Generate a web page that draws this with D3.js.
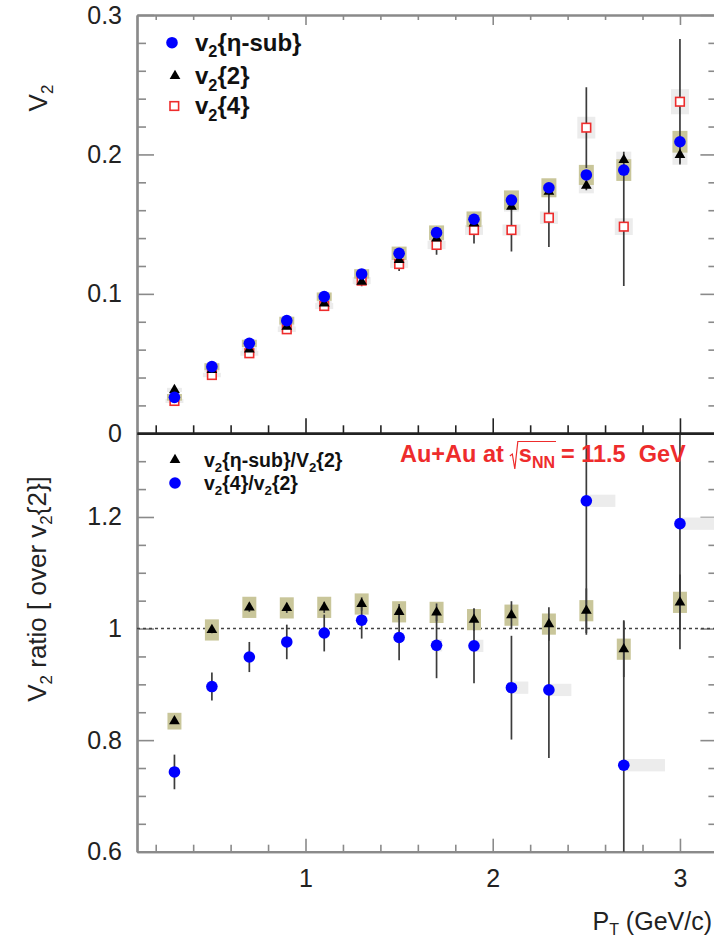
<!DOCTYPE html>
<html><head><meta charset="utf-8">
<script src="https://cdn.jsdelivr.net/npm/d3@7"></script>
<style>html,body{margin:0;padding:0;background:#fff;} svg{display:block;font-family:"Liberation Sans",Arial,Helvetica,sans-serif;}</style>
</head><body><svg id="c" width="714" height="939"></svg>
<script>
// ---------------- data ----------------
const pT = [0.3,0.5,0.7,0.9,1.1,1.3,1.5,1.7,1.9,2.1,2.3,2.5,2.7,3.0];

// upper panel: v2 vs pT
const v2EtaSub    = [0.0258,0.0478,0.0645,0.0808,0.0980,0.1143,0.1291,0.1439,0.1535,0.1673,0.1761,0.1853,0.1888,0.2091];
const v2EtaSubErr = [0.0008,0.0008,0.0009,0.0010,0.0011,0.0012,0.0013,0.0015,0.0018,0.0022,0.0026,0.0032,0.0040,0.0045];
const v2EtaSubSys = [0.0024,0.0025,0.0026,0.0028,0.0030,0.0034,0.0048,0.0052,0.0056,0.0069,0.0068,0.0072,0.0078,0.0078];

const v2Two    = [0.0311,0.0454,0.0602,0.0765,0.0932,0.1087,0.1243,0.1398,0.1506,0.1625,0.1733,0.1776,0.1960,0.1996];
const v2TwoErr = [0.0006,0.0006,0.0007,0.0008,0.0009,0.0010,0.0012,0.0014,0.0017,0.0021,0.0026,0.0032,0.0060,0.0060];
const v2TwoSys = [0.0015,0.0015,0.0016,0.0018,0.0020,0.0022,0.0025,0.0028,0.0030,0.0035,0.0040,0.0055,0.0060,0.0070];

const v2Four    = [0.0232,0.0418,0.0574,0.0746,0.0913,0.1095,0.1214,0.1351,0.1458,0.1458,0.1546,0.2192,0.1482,0.2378];
const v2FourErr = [0.0015,0.0018,0.0020,0.0025,0.0030,0.0040,0.0050,0.0070,0.0096,0.0155,0.0210,0.0290,0.0426,0.0450];
const v2FourSys = [0.0015,0.0016,0.0018,0.0020,0.0022,0.0025,0.0028,0.0030,0.0035,0.0040,0.0045,0.0078,0.0060,0.0090];

// lower panel: ratios over v2{2}
const ratioEta    = [0.834,0.9975,1.038,1.037,1.038,1.044,1.030,1.029,1.016,1.024,1.008,1.032,0.963,1.047];
const ratioEtaErr = [0.005,0.006,0.008,0.009,0.010,0.012,0.014,0.016,0.020,0.025,0.030,0.040,0.050,0.050];
const ratioEtaSys = [0.015,0.019,0.019,0.019,0.019,0.019,0.019,0.019,0.019,0.019,0.019,0.019,0.019,0.019];

const ratioFour     = [0.743,0.896,0.949,0.976,0.992,1.015,0.984,0.970,0.969,0.894,0.890,1.229,0.755,1.188];
const ratioFourErr  = [0.031,0.025,0.027,0.031,0.033,0.033,0.041,0.059,0.067,0.093,0.122,0.240,0.260,0.225];
const ratioFourSys  = [0.011,0.011,0.011,0.011,0.011,0.011,0.011,0.011,0.011,0.011,0.011,0.011,0.011,0.011];
const ratioFourSysW = [0,0,0,0,0,0,0,0.03,0.05,0.09,0.12,0.155,0.22,0.22];

// axes
const xMajor = [1,2,3];
const xMinor = [0.2,0.4,0.6,0.8,1.2,1.4,1.6,1.8,2.2,2.4,2.6,2.8];
const yTopMajor = [0,0.1,0.2,0.3];
const yTopMajorLabels = ["0","0.1","0.2","0.3"];
const yTopMinor = [0.02,0.04,0.06,0.08,0.12,0.14,0.16,0.18,0.22,0.24,0.26,0.28];
const yBotMajor = [0.6,0.8,1.0,1.2];
const yBotMajorLabels = ["0.6","0.8","1","1.2"];
const yBotMinor = [0.65,0.7,0.75,0.85,0.9,0.95,1.05,1.1,1.15,1.25,1.3];

// ---------------- drawing ----------------
const svg = d3.select("#c");
const L = 137, R = 717.4, T = 15, M = 433.3, B = 851.7;
const x = d3.scaleLinear().domain([0.1,3.2]).range([L,R]);
const yT = d3.scaleLinear().domain([0,0.3]).range([M,T]);
const yB = d3.scaleLinear().domain([0.6,1.35]).range([B,M]);

const KHAKI = "#c9c69a", LGRAY = "#ececec", BLUE = "#0000ff", RED = "#ee2c2c", ERR = "#3c3c3c", AX = "#8a8a8a";
const FS = 25;

const defs = svg.append("defs");
defs.append("clipPath").attr("id","cpT").append("rect").attr("x",L).attr("y",T).attr("width",R-L).attr("height",M-T);
defs.append("clipPath").attr("id","cpB").append("rect").attr("x",L).attr("y",M).attr("width",R-L).attr("height",B-M);

function styleAxis(g, color, width){
  g.select(".domain").attr("stroke",color).attr("stroke-width",width);
  g.selectAll(".tick line").attr("stroke",color).attr("stroke-width",1.6);
  g.selectAll(".tick text").attr("fill","#222").attr("font-size",FS).attr("font-family","Liberation Sans, Arial, sans-serif");
}
function ax(gen, tr, color, width){
  const g = svg.append("g").attr("transform",tr).call(gen);
  styleAxis(g,color,width);
  return g;
}
// upper panel frame & ticks
ax(d3.axisLeft(yT).tickValues(yTopMinor).tickSize(-9).tickSizeOuter(0).tickFormat(""),`translate(${L},0)`,AX,2.2);
ax(d3.axisLeft(yT).tickValues(yTopMajor).tickSize(-17).tickSizeOuter(0).tickPadding(15).tickFormat((d,i)=>yTopMajorLabels[i]),`translate(${L},0)`,AX,2.2);
ax(d3.axisRight(yT).tickValues(yTopMinor).tickSize(-9).tickSizeOuter(0).tickFormat(""),`translate(${R},0)`,AX,2.2);
ax(d3.axisRight(yT).tickValues(yTopMajor).tickSize(-17).tickSizeOuter(0).tickFormat(""),`translate(${R},0)`,AX,2.2);
ax(d3.axisTop(x).tickValues(xMinor).tickSize(-5).tickSizeOuter(0).tickFormat(""),`translate(0,${T})`,AX,2.2);
ax(d3.axisTop(x).tickValues(xMajor).tickSize(-10).tickSizeOuter(0).tickFormat(""),`translate(0,${T})`,AX,2.2);

// lower panel
ax(d3.axisLeft(yB).tickValues(yBotMinor).tickSize(-9).tickSizeOuter(0).tickFormat(""),`translate(${L},0)`,AX,2.2);
ax(d3.axisLeft(yB).tickValues(yBotMajor).tickSize(-17).tickSizeOuter(0).tickPadding(15).tickFormat((d,i)=>yBotMajorLabels[i]),`translate(${L},0)`,AX,2.2);
ax(d3.axisRight(yB).tickValues(yBotMinor).tickSize(-9).tickSizeOuter(0).tickFormat(""),`translate(${R},0)`,AX,2.2);
ax(d3.axisRight(yB).tickValues(yBotMajor).tickSize(-17).tickSizeOuter(0).tickFormat(""),`translate(${R},0)`,AX,2.2);
ax(d3.axisBottom(x).tickValues(xMinor).tickSize(-7).tickSizeOuter(0).tickFormat(""),`translate(0,${B})`,AX,2.2);
ax(d3.axisBottom(x).tickValues(xMajor).tickSize(-13).tickSizeOuter(0).tickPadding(18).tickFormat(d3.format("d")),`translate(0,${B})`,AX,2.2);

// dotted unity line
svg.append("line").attr("x1",L).attr("x2",R).attr("y1",yB(1)).attr("y2",yB(1))
  .attr("stroke","#444").attr("stroke-width",1.4).attr("stroke-dasharray","3,3");

// ---------- upper panel marks ----------
const gT = svg.append("g").attr("clip-path","url(#cpT)");
const hw = x(0.14)-x(0.1); // sys box half width (0.04 GeV/c)
function boxes(g, ys, vals, sys, col, hwp){
  g.selectAll(null).data(pT).enter().append("rect")
   .attr("x",d=>x(d)-hwp).attr("width",2*hwp)
   .attr("y",(d,i)=>ys(vals[i]+sys[i])).attr("height",(d,i)=>ys(vals[i]-sys[i])-ys(vals[i]+sys[i]))
   .attr("fill",col);
}
function errs(g, ys, vals, e){
  g.selectAll(null).data(pT).enter().append("line")
   .attr("x1",d=>x(d)).attr("x2",d=>x(d))
   .attr("y1",(d,i)=>ys(vals[i]+e[i])).attr("y2",(d,i)=>ys(vals[i]-e[i]))
   .attr("stroke",ERR).attr("stroke-width",1.7);
}
boxes(gT,yT,v2Four,v2FourSys,LGRAY,hw+1.5);
boxes(gT,yT,v2Two,v2TwoSys,LGRAY,hw);
boxes(gT,yT,v2EtaSub,v2EtaSubSys,KHAKI,hw);
errs(gT,yT,v2Four,v2FourErr);
errs(gT,yT,v2Two,v2TwoErr);
errs(gT,yT,v2EtaSub,v2EtaSubErr);
const tri = d3.symbol().type(d3.symbolTriangle).size(50);
gT.selectAll(null).data(pT).enter().append("rect")
  .attr("x",d=>x(d)-4.3).attr("y",(d,i)=>yT(v2Four[i])-4.3).attr("width",8.6).attr("height",8.6)
  .attr("fill","#fff").attr("stroke",RED).attr("stroke-width",1.6);
gT.selectAll(null).data(pT).enter().append("path").attr("d",tri)
  .attr("transform",(d,i)=>`translate(${x(d)},${yT(v2Two[i])})`).attr("fill","#000");
gT.selectAll(null).data(pT).enter().append("circle")
  .attr("cx",d=>x(d)).attr("cy",(d,i)=>yT(v2EtaSub[i])).attr("r",5.8).attr("fill",BLUE);

// ---------- lower panel marks ----------
const gB = svg.append("g").attr("clip-path","url(#cpB)");
boxes(gB,yB,ratioEta,ratioEtaSys,KHAKI,hw-0.5);
gB.selectAll(null).data(pT).enter().append("rect")
  .attr("x",d=>x(d)).attr("width",(d,i)=>x(d+ratioFourSysW[i])-x(d))
  .attr("y",(d,i)=>yB(ratioFour[i]+ratioFourSys[i])).attr("height",(d,i)=>yB(ratioFour[i]-ratioFourSys[i])-yB(ratioFour[i]+ratioFourSys[i]))
  .attr("fill",LGRAY);
errs(gB,yB,ratioEta,ratioEtaErr);
errs(gB,yB,ratioFour,ratioFourErr);
gB.selectAll(null).data(pT).enter().append("path").attr("d",tri)
  .attr("transform",(d,i)=>`translate(${x(d)},${yB(ratioEta[i])})`).attr("fill","#000");
gB.selectAll(null).data(pT).enter().append("circle")
  .attr("cx",d=>x(d)).attr("cy",(d,i)=>yB(ratioFour[i])).attr("r",5.8).attr("fill",BLUE);

// middle separating line (drawn on top)
ax(d3.axisBottom(x).tickValues(xMinor).tickSize(-8).tickSizeOuter(0).tickFormat(""),`translate(0,${M})`,"#222",2.6);
ax(d3.axisBottom(x).tickValues(xMajor).tickSize(-15).tickSizeOuter(0).tickFormat(""),`translate(0,${M})`,"#222",2.6);

// ---------- texts ----------
// y titles
const yt1 = svg.append("text").attr("transform","translate(47,98) rotate(-90)").attr("text-anchor","middle")
  .attr("font-size",26).attr("fill","#222");
yt1.append("tspan").text("V");
yt1.append("tspan").attr("font-size",17).attr("dy",6).text("2");

const yt2 = svg.append("text").attr("transform","translate(46,589) rotate(-90)").attr("text-anchor","middle")
  .attr("font-size",26).attr("fill","#222");
yt2.append("tspan").text("V");
yt2.append("tspan").attr("font-size",17).attr("dy",6).text("2");
yt2.append("tspan").attr("dy",-6).text(" ratio [ over v");
yt2.append("tspan").attr("font-size",17).attr("dy",6).text("2");
yt2.append("tspan").attr("dy",-6).text("{2}]");

// x title
const xt = svg.append("text").attr("x",712).attr("y",930).attr("text-anchor","end").attr("font-size",25).attr("fill","#222");
xt.append("tspan").text("P");
xt.append("tspan").attr("font-size",16).attr("dy",5).text("T");
xt.append("tspan").attr("dy",-5).text(" (GeV/c)");

// upper legend
const lg1 = svg.append("g").attr("font-weight","bold").attr("font-size",24).attr("fill","#111");
lg1.append("circle").attr("cx",172).attr("cy",42.7).attr("r",5.8).attr("fill",BLUE);
lg1.append("path").attr("d",tri).attr("transform","translate(175,76)").attr("fill","#000");
lg1.append("rect").attr("x",170).attr("y",101.7).attr("width",8.6).attr("height",8.6).attr("fill","#fff").attr("stroke",RED).attr("stroke-width",1.6);
function legText(g, xx, yy, parts, fsz){
  const t = g.append("text").attr("x",xx).attr("y",yy);
  let shifted = false;
  parts.forEach(p=>{
    if (p.s){ t.append("tspan").attr("font-size",fsz*0.68).attr("dy",fsz*0.28).text(p.s); shifted = true; }
    else { const ts = t.append("tspan").text(p.t); if (shifted){ ts.attr("dy",-fsz*0.28); shifted=false; } }
  });
  return t;
}
legText(lg1,195,50.5,[{t:"v"},{s:"2"},{t:"{η-sub}"}],24);
legText(lg1,195,84,[{t:"v"},{s:"2"},{t:"{2}"}],24);
legText(lg1,195,114,[{t:"v"},{s:"2"},{t:"{4}"}],24);

// lower legend
const lg2 = svg.append("g").attr("font-weight","bold").attr("font-size",19.5).attr("fill","#111");
lg2.append("path").attr("d",tri).attr("transform","translate(175,460)").attr("fill","#000");
lg2.append("circle").attr("cx",175).attr("cy",483).attr("r",5.8).attr("fill",BLUE);
legText(lg2,204,467,[{t:"v"},{s:"2"},{t:"{η-sub}/V"},{s:"2"},{t:"{2}"}],19.5);
legText(lg2,204,490,[{t:"v"},{s:"2"},{t:"{4}/v"},{s:"2"},{t:"{2}"}],19.5);

// red label with sqrt(s_NN)
const lab = svg.append("g").attr("fill",RED).attr("font-weight","bold").attr("font-size",23.5);
const lx = 400, ly = 462;
const t1 = lab.append("text").attr("x",lx).attr("y",ly).text("Au+Au at");
const w1 = t1.node().getComputedTextLength();
const rx = lx + w1 + 6;
const sx = rx + 9;
const t2 = lab.append("text").attr("x",sx).attr("y",ly).text("s");
const w2 = t2.node().getComputedTextLength();
const t3 = lab.append("text").attr("x",sx+w2).attr("y",ly+6).attr("font-size",16).text("NN");
const w3 = t3.node().getComputedTextLength();
lab.append("path").attr("d",`M${rx},${ly-6} L${rx+2.5},${ly-8} L${rx+5},${ly+7} L${rx+8},${ly-20.5} L${sx+w2+w3+1},${ly-20.5}`)
  .attr("fill","none").attr("stroke",RED).attr("stroke-width",1.2);
lab.append("text").attr("x",sx+w2+w3+6).attr("y",ly).text("= 11.5\u00a0\u00a0GeV");
</script></body></html>
